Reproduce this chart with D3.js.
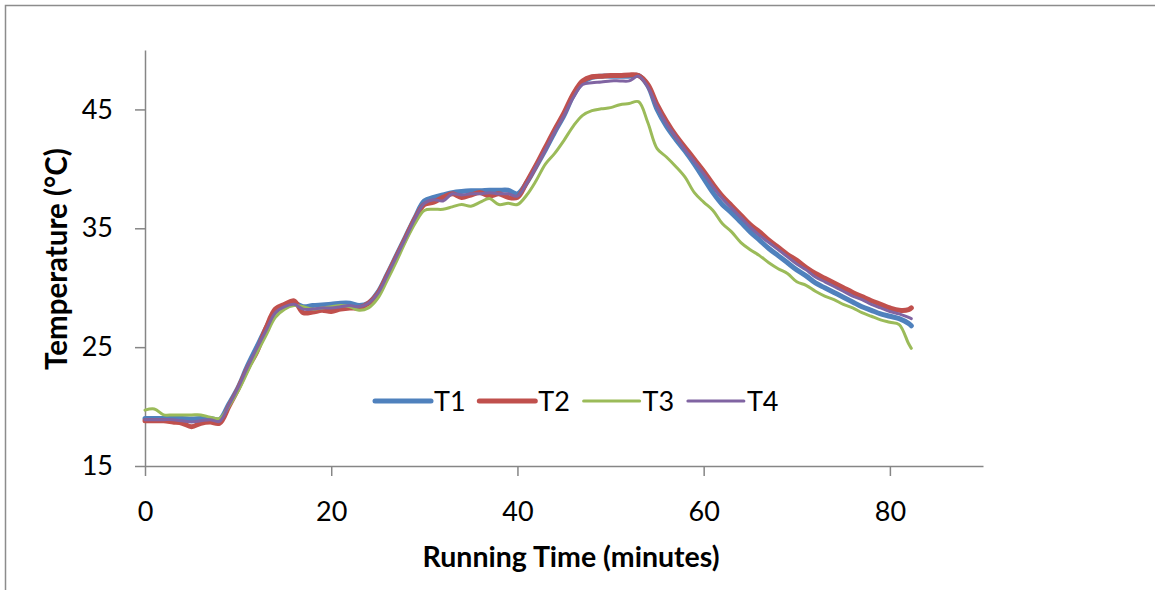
<!DOCTYPE html>
<html>
<head>
<meta charset="utf-8">
<script src="https://cdn.jsdelivr.net/npm/d3@7"></script>
<style>
  html, body { margin: 0; padding: 0; background: #fff; }
  svg { display: block; }
  text { font-family: Lato, "Open Sans", sans-serif; fill: #000; }
</style>
</head>
<body>
<svg id="chart" width="1155" height="590"></svg>
<script>
// ---- data ----
const times = [0,1,2,3,4,5,6,7,8,9,10,11,12,13,14,15,16,17,18,19,20,21,22,23,24,25,26,27,28,29,
  30,31,32,33,34,35,36,37,38,39,40,41,42,43,44,45,46,47,48,49,50,51,52,53,54,55,56,57,58,59,
  60,61,62,63,64,65,66,67,68,69,70,71,72,73,74,75,76,77,78,79,80,81,82,82.3];

const T1 = [19.0,19.0,19.0,19.0,19.0,18.95,19.0,19.0,18.9,20.2,21.6,23.4,25.0,26.6,28.0,28.5,28.7,28.4,28.5,28.55,
  28.6,28.7,28.7,28.5,28.7,29.6,31.1,32.7,34.3,35.9,37.3,37.6,37.8,38.0,38.1,38.15,38.15,38.2,38.2,38.2,
  37.9,38.85,40.2,41.6,43.1,44.5,46.2,47.3,47.7,47.8,47.8,47.8,47.8,47.85,47.0,45.0,43.6,42.5,41.5,40.4,
  39.2,38.0,37.0,36.3,35.5,34.7,34.0,33.3,32.7,32.1,31.5,31.0,30.4,30.0,29.6,29.2,28.8,28.4,28.1,27.8,
  27.6,27.4,27.0,26.8];

const T2 = [18.8,18.8,18.8,18.7,18.6,18.3,18.6,18.7,18.6,20.0,21.5,23.2,24.6,26.6,28.2,28.6,28.9,27.9,27.95,28.1,
  28.0,28.2,28.3,28.3,28.7,29.5,31.0,32.6,34.2,35.8,37.0,37.2,37.6,37.9,37.6,37.8,38.0,37.7,37.9,37.6,
  37.6,38.9,40.3,41.8,43.3,44.7,46.3,47.4,47.75,47.8,47.85,47.85,47.9,47.85,47.1,45.4,44.0,42.8,41.8,40.8,
  39.8,38.7,37.7,36.9,36.1,35.3,34.7,34.0,33.4,32.8,32.3,31.7,31.2,30.8,30.4,30.0,29.6,29.25,28.9,28.6,
  28.3,28.1,28.15,28.3];

const T3 = [19.7,19.8,19.3,19.3,19.3,19.3,19.3,19.1,19.0,20.0,21.3,22.9,24.5,26.0,27.5,28.2,28.5,28.4,28.2,28.3,
  28.4,28.5,28.4,28.1,28.3,29.1,30.6,32.2,33.9,35.4,36.5,36.6,36.6,36.8,37.0,36.85,37.2,37.5,37.0,37.1,
  37.0,37.8,39.0,40.4,41.3,42.4,43.6,44.5,44.9,45.05,45.15,45.4,45.5,45.65,43.9,41.7,41.0,40.2,39.3,38.0,
  37.2,36.5,35.4,34.7,33.8,33.2,32.7,32.1,31.6,31.2,30.5,30.2,29.7,29.3,29.0,28.6,28.3,27.9,27.6,27.3,
  27.1,26.9,25.3,24.9];

const T4 = [18.9,18.9,18.9,18.9,18.8,18.7,18.8,18.9,18.75,20.1,21.6,23.3,24.9,26.4,27.9,28.4,28.6,28.2,28.2,28.3,
  28.3,28.4,28.5,28.4,28.7,29.5,31.0,32.6,34.2,35.8,37.1,37.4,37.3,37.9,37.8,37.9,37.9,38.0,37.9,37.9,
  37.7,38.8,40.2,41.6,43.1,44.5,46.0,47.1,47.25,47.3,47.4,47.4,47.4,47.8,46.9,45.2,43.8,42.7,41.6,40.6,
  39.6,38.5,37.5,36.7,35.9,35.1,34.4,33.8,33.2,32.6,32.0,31.5,30.9,30.5,30.1,29.7,29.3,29.0,28.6,28.3,
  28.0,27.8,27.5,27.4];

const seriesNames = ["T1","T2","T3","T4"];
const seriesValues = [T1, T2, T3, T4];
const xTicks = [0,20,40,60,80];
const yTicks = [15,25,35,45];
const xLabel = "Running Time (minutes)";
const yLabel = "Temperature (°C)";

// ---- styles ----
const colors = ["#4F81BD","#C0504D","#9BBB59","#8064A2"];
const widths = [5, 5, 3, 3];
const axisColor = "#868686";

const svg = d3.select("#chart");

// outer frame
svg.append("rect")
  .attr("x", 5.5).attr("y", 5.5)
  .attr("width", 1300).attr("height", 800)
  .attr("fill", "none").attr("stroke", "#8c8c8c").attr("stroke-width", 1.5);

const x = d3.scaleLinear().domain([0, 90]).range([145, 983]);
const y = d3.scaleLinear().domain([15, 50]).range([466, 50]);

// axes
const yAxis = svg.append("g")
  .attr("transform", `translate(${x(0)},0)`)
  .call(d3.axisLeft(y).tickValues(yTicks).tickSize(10).tickSizeOuter(0).tickPadding(22)
        .tickFormat(d3.format("d")));
const xAxis = svg.append("g")
  .attr("transform", `translate(0,${y(15)})`)
  .call(d3.axisBottom(x).tickValues(xTicks).tickSize(10).tickSizeOuter(0).tickPadding(26)
        .tickFormat(d3.format("d")));

[xAxis, yAxis].forEach(g => {
  g.selectAll("path.domain").attr("stroke", axisColor).attr("stroke-width", 1.5);
  g.selectAll(".tick line").attr("stroke", axisColor).attr("stroke-width", 1.5);
  g.selectAll(".tick text").attr("font-size", 27).attr("font-family", "Lato, 'Open Sans', sans-serif").attr("fill", "#000");
});

// lines
const line = d3.line()
  .x((d, i) => x(times[i]))
  .y(d => y(d))
  .curve(d3.curveCatmullRom.alpha(0.5));

seriesValues.forEach((vals, k) => {
  svg.append("path")
    .datum(vals)
    .attr("d", line)
    .attr("fill", "none")
    .attr("stroke", colors[k])
    .attr("stroke-width", widths[k])
    .attr("stroke-linejoin", "round")
    .attr("stroke-linecap", "round");
});

// legend
const legend = svg.append("g").attr("transform", "translate(375,401)");
seriesNames.forEach((name, k) => {
  const gx = k * 104.3;
  legend.append("line")
    .attr("x1", gx).attr("x2", gx + 56)
    .attr("y1", 0).attr("y2", 0)
    .attr("stroke", colors[k]).attr("stroke-width", widths[k])
    .attr("stroke-linecap", "round");
  legend.append("text")
    .attr("x", gx + 59).attr("y", 10)
    .attr("font-size", 27)
    .text(name);
});

// axis titles
svg.append("text")
  .attr("x", 571).attr("y", 566.5)
  .attr("text-anchor", "middle")
  .attr("font-size", 28.5).attr("font-weight", "bold")
  .text(xLabel);

svg.append("text")
  .attr("transform", "translate(66.5,259) rotate(-90)")
  .attr("text-anchor", "middle")
  .attr("font-size", 29.5).attr("font-weight", "bold")
  .text(yLabel);
</script>
</body>
</html>
